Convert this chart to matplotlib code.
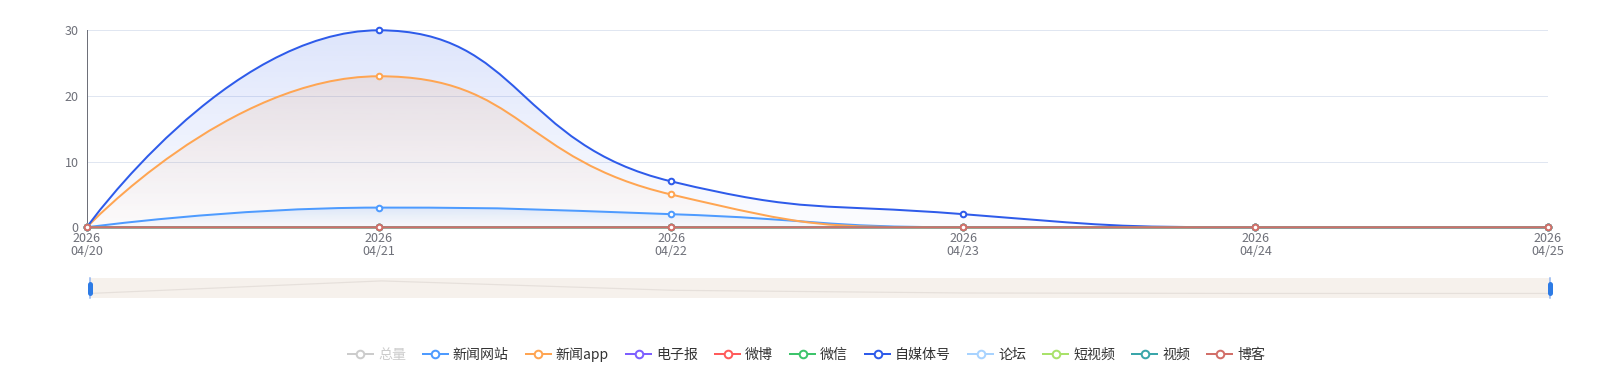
import numpy as np
import matplotlib
matplotlib.use('Agg')
import matplotlib.pyplot as plt
from matplotlib.path import Path
from matplotlib.patches import PathPatch
from matplotlib.lines import Line2D
from matplotlib.colors import to_rgb

plt.rcParams['font.family'] = ['Noto Sans CJK SC', 'DejaVu Sans']

# ---------------- data ----------------
dates = ['2026\n04/20', '2026\n04/21', '2026\n04/22', '2026\n04/23', '2026\n04/24', '2026\n04/25']
series_names = ['总量', '新闻网站', '新闻app', '电子报', '微博', '微信', '自媒体号', '论坛', '短视频', '视频', '博客']
total = [0, 56, 14, 2, 0, 0]
news_site = [0, 3, 2, 0, 0, 0]
news_app = [0, 23, 5, 0, 0, 0]
epaper = [0, 0, 0, 0, 0, 0]
weibo = [0, 0, 0, 0, 0, 0]
wechat = [0, 0, 0, 0, 0, 0]
we_media = [0, 30, 7, 2, 0, 0]
forum = [0, 0, 0, 0, 0, 0]
short_video = [0, 0, 0, 0, 0, 0]
video = [0, 0, 0, 0, 0, 0]
blog = [0, 0, 0, 0, 0, 0]
y_ticks = [0, 10, 20, 30]

series_values = [total, news_site, news_app, epaper, weibo, wechat, we_media, forum, short_video, video, blog]
colors = ['#CCCCCC', '#4E9BFF', '#FFA552', '#7D5FFF', '#FF5B5B', '#3DC46B',
          '#2E5BEA', '#A8D3FF', '#A9E26A', '#3AA6AA', '#D26F69']
visible = [False] + [True] * 10

# ---------------- layout helpers ----------------
W, H = 1613, 382
DPI = 100
PX = 72.0 / DPI  # points per pixel


def fx(px):
    return px / W


def fy(py):
    return 1 - py / H


fig = plt.figure(figsize=(W / DPI, H / DPI), dpi=DPI)
fig.patch.set_facecolor('white')

ax_l, ax_r, ax_t, ax_b = 86.7, 1547.5, 30.3, 227.3
ax = fig.add_axes([fx(ax_l), fy(ax_b), fx(ax_r) - fx(ax_l), (ax_b - ax_t) / H])
n = len(dates)
xs = np.arange(n)
ax.set_xlim(0, n - 1)
ax.set_ylim(0, 30)

sx = (ax_r - ax_l) / (n - 1)
sy = (ax_b - ax_t) / 30.0


def echarts_smooth(xd, yd, smooth=0.5):
    px = [x * sx for x in xd]
    py = [y * sy for y in yd]
    verts = [(px[0], py[0])]
    codes = [Path.MOVETO]
    cpx0, cpy0 = px[0], py[0]
    prevX, prevY = px[0], py[0]
    m = len(px)
    for i in range(1, m):
        x, y = px[i], py[i]
        if i == m - 1:
            cpx1, cpy1 = x, y
            ncx, ncy = x, y
        else:
            nX, nY = px[i + 1], py[i + 1]
            vx, vy = nX - prevX, nY - prevY
            dx0, dy0 = x - prevX, y - prevY
            dx1, dy1 = nX - x, nY - y
            lp = np.hypot(dx0, dy0)
            ln = np.hypot(dx1, dy1)
            r = ln / (ln + lp)
            ncx = x + vx * smooth * r
            ncy = y + vy * smooth * r
            ncx = min(ncx, max(nX, x)); ncy = min(ncy, max(nY, y))
            ncx = max(ncx, min(nX, x)); ncy = max(ncy, min(nY, y))
            vx, vy = ncx - x, ncy - y
            cpx1 = x - vx * lp / ln
            cpy1 = y - vy * lp / ln
            cpx1 = min(cpx1, max(prevX, x)); cpy1 = min(cpy1, max(prevY, y))
            cpx1 = max(cpx1, min(prevX, x)); cpy1 = max(cpy1, min(prevY, y))
            vx, vy = x - cpx1, y - cpy1
            ncx = x + vx * ln / lp
            ncy = y + vy * ln / lp
        verts += [(cpx0, cpy0), (cpx1, cpy1), (x, y)]
        codes += [Path.CURVE4] * 3
        cpx0, cpy0 = ncx, ncy
        prevX, prevY = x, y
    verts = [(a / sx, b / sy) for a, b in verts]
    return verts, codes


# grid
for t in y_ticks[1:]:
    ax.axhline(t, color='#E0E6F1', lw=1 * PX, zorder=0)

for sp in ['top', 'right']:
    ax.spines[sp].set_visible(False)
ax.spines['left'].set_color('#6E7079')
ax.spines['left'].set_linewidth(1 * PX)
ax.spines['bottom'].set_color('#6E7079')
ax.spines['bottom'].set_linewidth(1 * PX)

ax.set_yticks(y_ticks)
ax.set_yticklabels([str(t) for t in y_ticks])
ax.set_xticks(xs)
ax.set_xticklabels(dates, linespacing=0.95)
ax.tick_params(axis='both', length=0, labelsize=12.5 * PX, labelcolor='#6E7079')
ax.tick_params(axis='y', pad=8 * PX)
ax.tick_params(axis='x', pad=5 * PX)

# areas
z = 2
for vals, col, vis in zip(series_values, colors, visible):
    if not vis or max(vals) <= 0:
        continue
    verts, codes = echarts_smooth(xs, vals)
    verts = verts + [(n - 1, 0), (0, 0), (0, 0)]
    codes = codes + [Path.LINETO, Path.LINETO, Path.CLOSEPOLY]
    patch = PathPatch(Path(verts, codes), facecolor='none', edgecolor='none', transform=ax.transData)
    ax.add_patch(patch)
    rgb = to_rgb(col)
    grad = np.zeros((256, 1, 4))
    grad[..., 0], grad[..., 1], grad[..., 2] = rgb
    grad[:, 0, 3] = np.linspace(0.16, 0.015, 256)
    im = ax.imshow(grad, extent=[0, n - 1, 0, max(vals)], aspect='auto', origin='upper',
                   interpolation='bilinear', zorder=z)
    im.set_clip_path(patch)
    z += 0.01

ax.set_xlim(0, n - 1)
ax.set_ylim(0, 30)

# lines
for k, (vals, col, vis) in enumerate(zip(series_values, colors, visible)):
    if not vis:
        continue
    verts, codes = echarts_smooth(xs, vals)
    ax.add_patch(PathPatch(Path(verts, codes), facecolor='none', edgecolor=col,
                           lw=2 * PX, zorder=5 + k * 0.1, clip_on=False, capstyle='round'))
    ax.plot(xs, vals, linestyle='none', marker='o', ms=5.6 * PX, mfc='white', mec=col,
            mew=2 * PX, zorder=5 + k * 0.1 + 0.05, clip_on=False)

# ---------------- data zoom slider ----------------
sl_l, sl_r, sl_t, sl_b = 89.5, 1549.5, 278.0, 297.7
ax2 = fig.add_axes([fx(sl_l), fy(sl_b), fx(sl_r) - fx(sl_l), (sl_b - sl_t) / H])
ax2.set_facecolor('#F6F1EC')
for sp in ax2.spines.values():
    sp.set_visible(False)
ax2.set_xticks([])
ax2.set_yticks([])
ax2.set_xlim(0, n - 1)
ax2.set_ylim(-19, 69)
ax2.plot(xs, total, color='#E6E0DB', lw=1.2 * PX)

for hx in (89.8, 1550.0):
    fig.add_artist(Line2D([fx(hx), fx(hx)], [fy(278), fy(298)], color='#8DB2F0', lw=1.5 * PX))
    fig.add_artist(Line2D([fx(hx), fx(hx)], [fy(283.5), fy(292.5)], color='#2D7BE5',
                          lw=5 * PX, solid_capstyle='round'))

# ---------------- legend ----------------
renderer = fig.canvas.get_renderer()
fs = 14 * PX
icon_w, gap, item_gap = 25, 5, 17
leg_y = 354.0
texts = []
widths = []
for name, col, vis in zip(series_names, colors, visible):
    t = fig.text(0, fy(leg_y + 4.8), name, fontsize=fs, color='#333333' if vis else '#CCCCCC',
                 ha='left', va='baseline')
    texts.append(t)
    widths.append(t.get_window_extent(renderer).width)
total_w = sum(icon_w + gap + w for w in widths) + item_gap * (len(widths) - 1)
x = W / 2 - total_w / 2
for t, w, col, vis in zip(texts, widths, colors, visible):
    c = col if vis else '#CCCCCC'
    fig.add_artist(Line2D([fx(x), fx(x + icon_w)], [fy(leg_y), fy(leg_y)], color=c, lw=2 * PX))
    fig.add_artist(Line2D([fx(x + icon_w / 2)], [fy(leg_y)], marker='o', ms=7.6 * PX,
                          mfc='white', mec=c, mew=2 * PX, linestyle='none'))
    t.set_x(fx(x + icon_w + gap))
    x += icon_w + gap + w + item_gap

fig.savefig('out.png', dpi=DPI, facecolor='white')
